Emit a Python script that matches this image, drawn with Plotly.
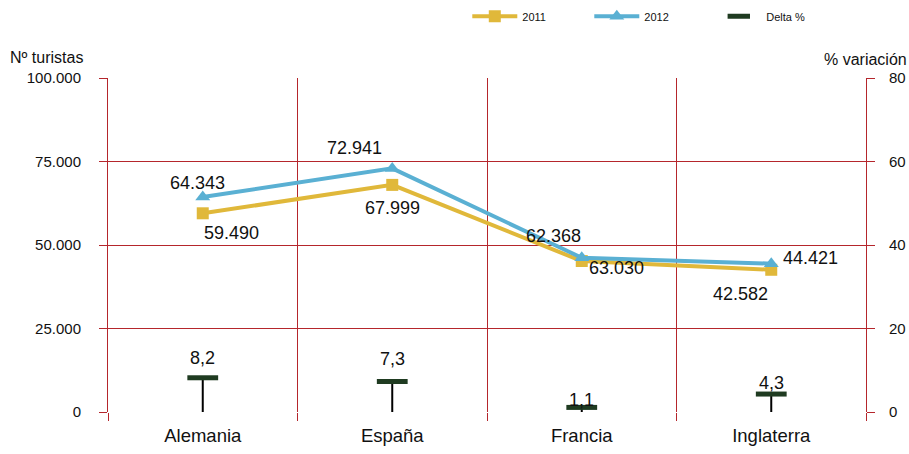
import plotly.graph_objects as go

categories = ["Alemania", "España", "Francia", "Inglaterra"]
# values as labelled in the chart
labels_2011 = [59490, 67999, 62368, 42582]
labels_2012 = [64343, 72941, 63030, 44421]
# values as plotted in the picture (Francia points drawn lower than their labels)
plot_2011 = [59490, 67999, 45200, 42582]
plot_2012 = [64343, 72941, 46200, 44421]
delta = [8.2, 7.3, 1.1, 4.3]

left_ticks = [0, 25000, 50000, 75000, 100000]
right_ticks = [0, 20, 40, 60, 80]

RED = "#b5262c"
C2011 = "#e0b83a"
C2012 = "#5ab0d3"
CDELTA = "#1f3b21"
FONT = "Liberation Sans, Arial, sans-serif"

x = list(range(len(categories)))

fig = go.Figure()
fig.add_trace(go.Scatter(
    x=x, y=plot_2011, name="2011", mode="lines+markers",
    line=dict(color=C2011, width=4),
    marker=dict(symbol="square", size=12, color=C2011),
))
fig.add_trace(go.Scatter(
    x=x, y=plot_2012, name="2012", mode="lines+markers",
    line=dict(color=C2012, width=4),
    marker=dict(symbol="triangle-up", size=13, color=C2012),
))
fig.add_trace(go.Scatter(
    x=x, y=delta, name="Delta %", mode="markers", yaxis="y2",
    marker=dict(symbol="line-ew", size=22, color=CDELTA,
                line=dict(color=CDELTA, width=5)),
    error_y=dict(type="data", symmetric=False, array=[0] * 4, arrayminus=delta,
                 width=0, color="black", thickness=2),
))

annotations = []
off_2012 = [(-5, 14), (-38, 20), (35, -10), (39, 6)]
off_2011 = [(29, -20), (0, -23), (-28, 25), (-31, -24)]
for i, (v, p) in enumerate(zip(labels_2012, plot_2012)):
    annotations.append(dict(x=i, y=p, xref="x", yref="y", text=f"{v:,}".replace(",", "."),
                            showarrow=False, xshift=off_2012[i][0], yshift=off_2012[i][1],
                            font=dict(size=18, color="#111", family=FONT)))
for i, (v, p) in enumerate(zip(labels_2011, plot_2011)):
    annotations.append(dict(x=i, y=p, xref="x", yref="y", text=f"{v:,}".replace(",", "."),
                            showarrow=False, xshift=off_2011[i][0], yshift=off_2011[i][1],
                            font=dict(size=18, color="#111", family=FONT)))
off_delta = [20, 23, 7, 11]
for i, v in enumerate(delta):
    annotations.append(dict(x=i, y=v, xref="x", yref="y2", text=f"{v:.1f}".replace(".", ","),
                            showarrow=False, yshift=off_delta[i],
                            font=dict(size=18, color="#111", family=FONT)))
annotations.append(dict(x=-0.03, y=1.06, xref="paper", yref="paper", xanchor="right",
                        yanchor="middle", text="Nº turistas", showarrow=False,
                        font=dict(size=16, color="#111", family=FONT)))
annotations.append(dict(x=1.057, y=1.055, xref="paper", yref="paper", xanchor="right",
                        yanchor="middle", text="% variación", showarrow=False,
                        font=dict(size=16, color="#111", family=FONT)))

fig.update_layout(
    width=909, height=454,
    margin=dict(l=108, r=43, t=78, b=42, autoexpand=False),
    paper_bgcolor="white", plot_bgcolor="white",
    separators=",.",
    font=dict(family=FONT, color="#111"),
    showlegend=True,
    legend=dict(orientation="h", x=0.474, y=1.228, xref="paper", yref="paper",
                xanchor="left", yanchor="top", itemwidth=45,
                font=dict(size=11, color="#111", family=FONT),
                entrywidth=62, entrywidthmode="pixels", bgcolor="rgba(0,0,0,0)"),
    annotations=annotations,
    xaxis=dict(
        range=[-0.5, 3.5], tickvals=x, ticktext=categories, showgrid=False,
        zeroline=False, showline=False, ticks="", automargin=False,
        tickfont=dict(size=18.5, color="#111", family=FONT), ticklabelstandoff=10,
        minor=dict(tickvals=[-0.5, 0.5, 1.5, 2.5, 3.5], showgrid=True, gridcolor=RED,
                   gridwidth=1, ticks="outside", ticklen=8, tickcolor=RED),
    ),
    yaxis=dict(
        range=[0, 100000], tickvals=left_ticks, tickformat=",d", automargin=False,
        showgrid=True, gridcolor=RED, gridwidth=1, zeroline=False,
        showline=True, linecolor=RED, ticks="outside", ticklen=8, tickcolor=RED,
        tickfont=dict(size=15, color="#111", family=FONT), ticklabelstandoff=15,
    ),
    yaxis2=dict(
        range=[0, 80], tickvals=right_ticks, overlaying="y", side="right", automargin=False,
        showgrid=False, zeroline=False, showline=True, linecolor=RED,
        ticks="outside", ticklen=8, tickcolor=RED,
        tickfont=dict(size=15, color="#111", family=FONT), ticklabelstandoff=11,
    ),
)

fig.write_html(
    "out.html",
    config={"displayModeBar": False},
    post_script="document.body.style.margin='0';document.body.style.overflow='hidden';",
)
